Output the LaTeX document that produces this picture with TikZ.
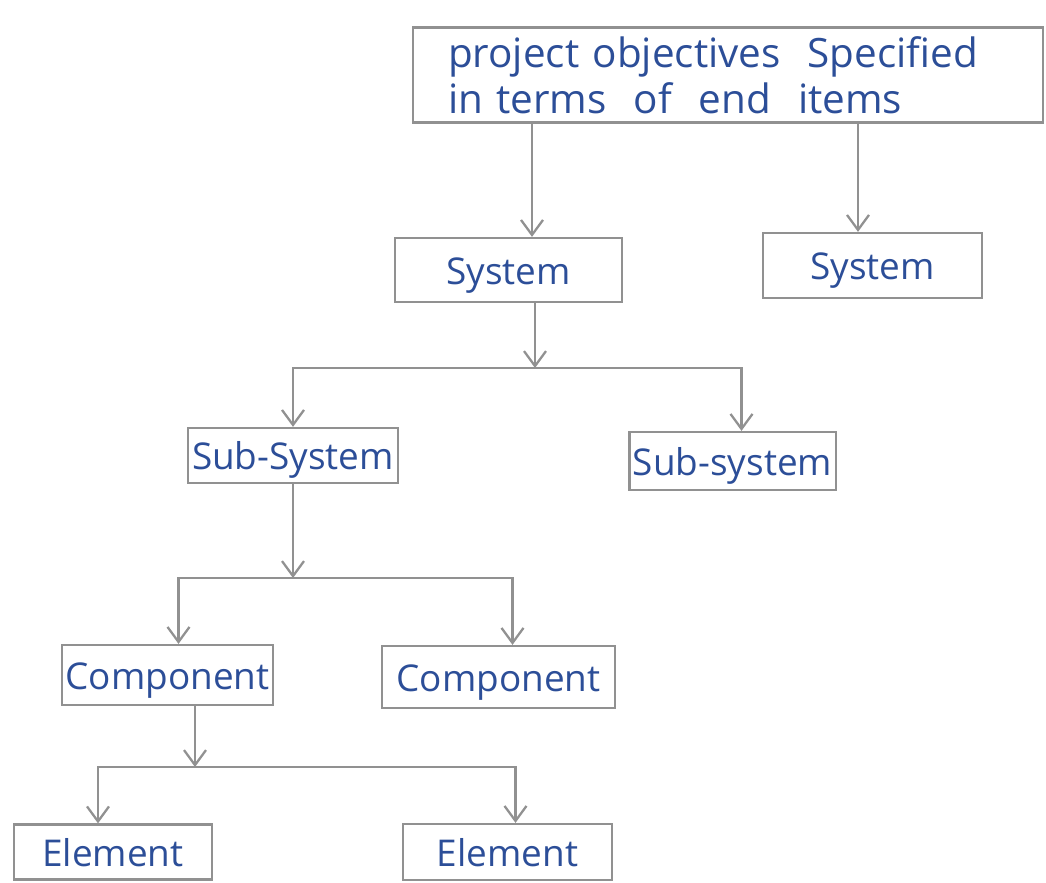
\documentclass[tikz,border=0pt]{standalone}
\usepackage{fontspec}
\setmainfont{Open Sans}
\usetikzlibrary{arrows.meta,positioning}
\definecolor{inkblue}{RGB}{44,78,152}
\definecolor{pencil}{RGB}{145,145,145}
\tikzset{
  wbox/.style={draw=pencil, line width=1.3pt, text=inkblue, inner sep=2pt,
               text height=0.74cm, text depth=0.18cm,
               font=\fontsize{21}{25}\selectfont},
  topbox/.style={draw=pencil, line width=1.3pt, text=inkblue, minimum width=12.6cm,
               minimum height=1.9cm, text width=11.2cm, align=left,
               font=\fontsize{23}{26}\selectfont},
  link/.style={-{Straight Barb[length=3mm,width=4.4mm]}, line width=1.3pt, draw=pencil},
}

\begin{document}
\begin{tikzpicture}
    \useasboundingbox (0,0) rectangle (20.92,-17.66);
    % top level and the two systems
    \node[topbox] (top) at (14.56,-1.5) {project objectives\ \ Specified\\ in terms\ \ of\ \ end\ \ items};
    \node[wbox, minimum width=4.54cm, minimum height=1.28cm] (sysL) at (10.17,-5.4) {System};
    \node[wbox, minimum width=4.38cm, minimum height=1.3cm] (sysR) at (17.45,-5.31) {System};
    % sub-systems
    \node[wbox, minimum width=4.2cm, minimum height=1.1cm] (subL) at (5.86,-9.11) {Sub-System};
    \node[wbox, minimum width=4.1cm, minimum height=1.16cm] (subR) at (14.65,-9.22) {Sub-system};
    % components
    \node[wbox, minimum width=3.9cm, minimum height=1.2cm] (compL) at (3.35,-13.5) {Component};
    \node[wbox, minimum width=4.66cm, minimum height=1.24cm] (compR) at (9.97,-13.54) {Component};
    % elements
    \node[wbox, minimum width=3.96cm, minimum height=1.1cm] (elemL) at (2.26,-17.04) {Element};
    \node[wbox, minimum width=4.18cm, minimum height=1.12cm] (elemR) at (10.15,-17.04) {Element};

    % drop points and branch junctions
    \coordinate (t1) at (10.64,0);
    \coordinate (t2) at (17.16,0);
    \coordinate (j1) at (10.7,-7.36);
    \coordinate (j2) at (5.86,-11.56);
    \coordinate (j3) at (3.9,-15.34);

    \draw[link] (top.south -| t1) -- (sysL.north -| t1);
    \draw[link] (top.south -| t2) -- (sysR.north -| t2);
    \draw[link] (sysL.south -| j1) -- (j1);
    \draw[link] (j1) -| (subL);
    \draw[link] (j1) -| ([xshift=1.8mm]subR.north);
    \draw[link] (subL) -- (j2);
    \draw[link] (j2) -| ([xshift=2.2mm]compL.north);
    \draw[link] (j2) -| ([xshift=2.8mm]compR.north);
    \draw[link] (compL.south -| j3) -- (j3);
    \draw[link] (j3) -| ([xshift=-3mm]elemL.north);
    \draw[link] (j3) -| ([xshift=1.6mm]elemR.north);
  \end{tikzpicture}
\end{document}
